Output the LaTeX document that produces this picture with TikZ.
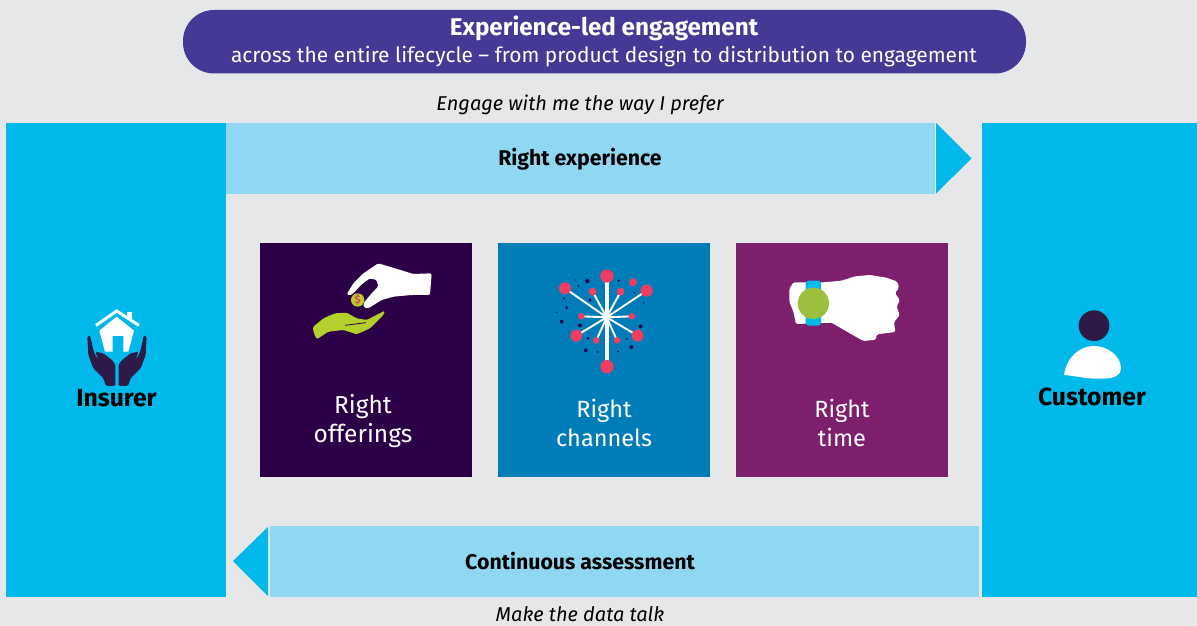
\documentclass[tikz,border=0pt]{standalone}
\usepackage{fontspec}
\setmainfont{Fira Sans}
\definecolor{bgc}{HTML}{E6E7E9}
\definecolor{pillc}{HTML}{433A95}
\definecolor{cyanc}{HTML}{00B9EA}
\definecolor{lightc}{HTML}{90D8F2}
\definecolor{plumc}{HTML}{2C0047}
\definecolor{bluec}{HTML}{007DB9}
\definecolor{purplec}{HTML}{7E1F6D}
\definecolor{limec}{HTML}{B5CF2C}
\definecolor{watchc}{HTML}{9CC03D}
\definecolor{redc}{HTML}{EF3E62}
\definecolor{navyc}{HTML}{1F0C58}
\definecolor{darkc}{HTML}{2E1A47}
\tikzset{
 panel/.style={fill=cyanc,draw=none},
 band/.style={fill=lightc,draw=none},
 head/.style={fill=cyanc,draw=none},
 tile/.style={draw=none},
 boxlabel/.style={font=\fontsize{23.5}{29}\selectfont,text=white,align=center,inner sep=0pt},
 bandlabel/.style={font=\fontsize{21.3}{24}\selectfont\bfseries,text=black,inner sep=0pt},
 sidelabel/.style={font=\fontsize{24.7}{26}\selectfont\bfseries,text=black,inner sep=0pt},
 note/.style={font=\fontsize{20}{24}\selectfont\itshape,text=black,inner sep=0pt},
 zoomed/.style={x=0.3333pt,y=-0.3333pt},
}
\begin{document}
\begin{tikzpicture}[x=1pt,y=-1pt]
\useasboundingbox (0,0) rectangle (1197,626);
\fill[bgc] (0,0) rectangle (1197,626);
% pill
\fill[pillc] (183,10) [rounded corners=31pt] -- (183,73.5) -- (1026,73.5) -- (1026,10) -- cycle;
\node[inner sep=0pt,text=white,font=\fontsize{24.2}{26}\selectfont\bfseries] (title) at (604,28) {Experience-led engagement};
\node[inner sep=0pt,text=white,font=\fontsize{20.9}{26}\selectfont] (subtitle) at (604,56.5) {across the entire lifecycle – from product design to distribution to engagement};
\node[note] (engage) at (580,104.5) {Engage with me the way I prefer};
\node[note] (datatalk) at (580,614.5) {Make the data talk};
% side panels
\fill[panel] (6,123) rectangle (226,597);
\fill[panel] (982,123) rectangle (1197,597);
% arrows
\fill[band] (226,123) rectangle (935,194);
\fill[head] (936,123) -- (971.5,158.5) -- (936,193.5) -- cycle;
\fill[band] (270,526) rectangle (979,597);
\fill[head] (268,527) -- (233,561) -- (268,596) -- cycle;
\node[bandlabel] (rexp) at (580,159) {Right experience};
\node[bandlabel] (cass) at (580,561) {Continuous assessment};
% tiles
\fill[tile,plumc] (260,243) rectangle (472,477);
\fill[tile,bluec] (498,243) rectangle (710,477);
\fill[tile,purplec] (736,243) rectangle (948,477);
\node[boxlabel,font=\fontsize{24.5}{29}\selectfont] (roff) at (363,421) {Right\\offerings};
\node[boxlabel] (rchan) at (604,423) {Right\\channels};
\node[boxlabel] (rtime) at (842,423) {Right\\time};
\node[sidelabel] (insurer) at (116.5,398.5) {Insurer};
\node[sidelabel] (customer) at (1092,397) {Customer};
% coin hands
\begin{scope}[shift={(340,255)},zoomed]
\fill[white,rounded corners=1.5pt] (20,118) -- (40,85) -- (70,55) -- (115,25) -- (165,40) -- (220,57) -- (275,55) -- (270,120) -- (215,120) -- (160,125) -- (125,135) -- (85,160) -- (72,158) -- (70,145) -- (95,115) -- (115,95) -- (110,75) -- (90,70) -- (65,88) -- (40,115) -- (28,122) -- cycle;
\end{scope}
\begin{scope}[shift={(290,250)},zoomed]
\fill[limec,rounded corners=1.5pt] (68,232) -- (100,205) -- (135,190) -- (170,188) -- (200,205) -- (230,210) -- (285,182) -- (280,195) -- (240,235) -- (200,253) -- (160,240) -- (115,245) -- (80,268) -- (72,250) -- cycle;
\draw[plumc,line width=0.8pt] (165,226) -- (228,218);
\fill[limec] (203,150) circle[radius=20];
\node[inner sep=0pt,text=redc,font=\fontsize{11}{11}\selectfont\bfseries] (dollar) at (203,150) {\$};
\end{scope}
% firework
\begin{scope}[shift={(540,260)},zoomed]
\foreach \px/\py in {75/85,320/92,109/227,293/227,158/95,242/95,124/169,276/169,169/241,231/241}
  \draw[white,line width=1.9pt] (200,172) -- (\px,\py);
\draw[white,line width=3.8pt] (200,48) -- (200,320);
\fill[white] (200,172) circle[radius=10];
\foreach \px/\py/\pr in {201/48/20,75/85/18,320/92/18,109/227/18,293/227/18,201/320/20,158/95/12,242/95/12,279/67/12,124/169/10,276/169/10,169/241/10,231/241/10}
  \fill[redc] (\px,\py) circle[radius=\pr];
\foreach \px/\py/\pr in {142/63/7,116/78/3,106/60/2,72/115/4,150/120/5,80/143/5,50/157/2,65/185/6,120/196/6,144/235/4,137/271/6,173/276/3,234/275/3,274/261/6,261/237/3,302/199/6,236/62/4,283/98/3,311/128/3,292/145/1.5,187/80/1.5}
  \fill[navyc] (\px,\py) circle[radius=\pr];
\end{scope}
% watch hand
\begin{scope}[shift={(780,265)},zoomed]
\fill[white,rounded corners=1.5pt] (28,72) -- (40,52) -- (130,52) -- (185,47) -- (225,34) -- (270,30) -- (320,38) -- (352,50) -- (357,68) -- (345,85) -- (360,105) -- (350,125) -- (359,150) -- (342,172) -- (346,201) -- (315,205) -- (290,208) -- (288,224) -- (250,228) -- (215,208) -- (175,185) -- (155,173) -- (48,177) -- (40,140) -- (28,110) -- cycle;
\fill[cyanc,rounded corners=3pt] (77,47) rectangle (123,182);
\fill[watchc] (100,115) circle[radius=47];
\end{scope}
% insurer icon
\begin{scope}[shift={(70,300)},zoomed]
\fill[white] (172,36) rectangle (186,60);
\fill[white] (88,92) -- (140,50) -- (192,92) -- (175,155) -- (160,155) -- (160,108) -- (128,108) -- (128,155) -- (105,155) -- cycle;
\draw[white,line width=3pt] (78,76) -- (140,33) -- (207,76);
\foreach \m/\o in {1/0,-1/282}{
\fill[darkc,rounded corners=1.5pt] (\o+\m*52,110) -- (\o+\m*60,105) -- (\o+\m*70,150) -- (\o+\m*78,170) -- (\o+\m*85,178) -- (\o+\m*76,155) -- (\o+\m*100,160) -- (\o+\m*128,182) -- (\o+\m*136,195) -- (\o+\m*136,258) -- (\o+\m*108,258) -- (\o+\m*100,235) -- (\o+\m*70,205) -- (\o+\m*55,165) -- cycle;
}
\end{scope}
% customer icon
\begin{scope}[shift={(1040,300)},zoomed]
\fill[darkc] (162,77) circle[radius=46];
\fill[white] (72,225) .. controls (80,170) and (120,138) .. (162,138) .. controls (205,138) and (243,170) .. (243,205) .. controls (243,225) and (225,235) .. (190,236) .. controls (140,238) and (110,228) .. (72,225) -- cycle;
\end{scope}
\end{tikzpicture}
\end{document}
